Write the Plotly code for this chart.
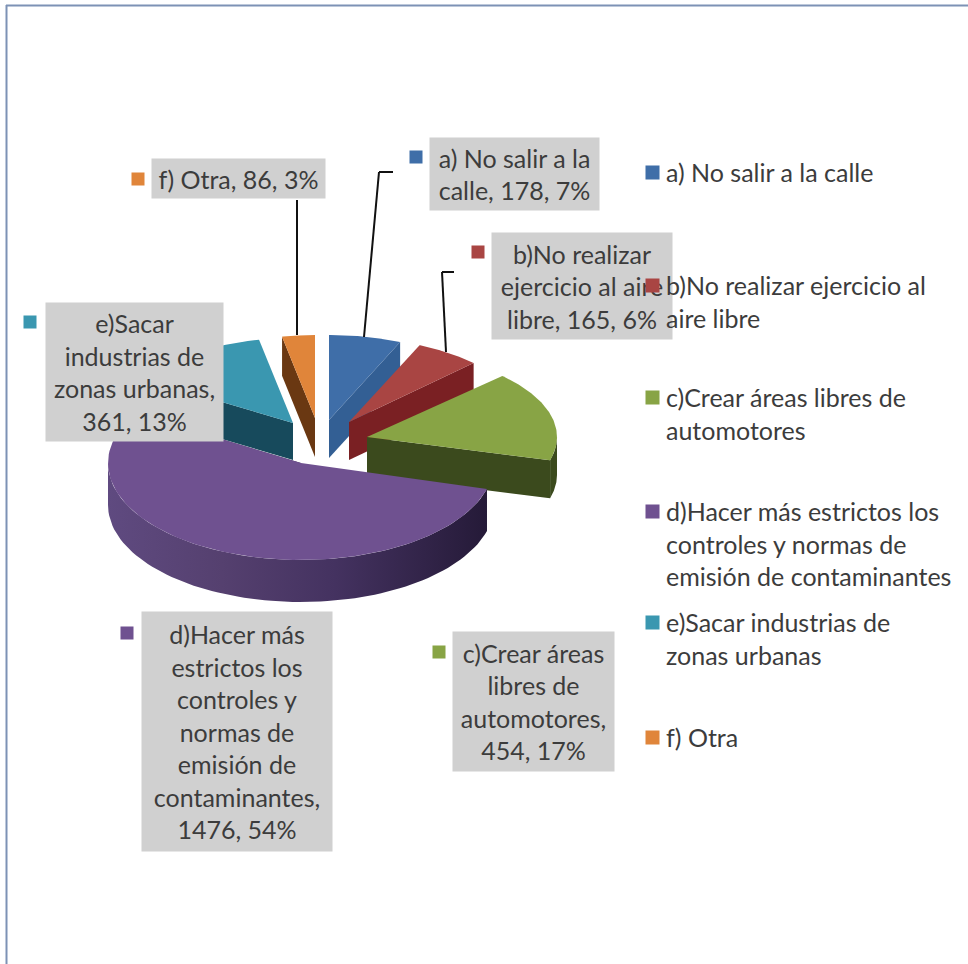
import numpy as np
import plotly.graph_objects as go

# ---- data ----
categories = ["a) No salir a la calle", "b)No realizar ejercicio al aire libre",
              "c)Crear áreas libres de automotores",
              "d)Hacer más estrictos los controles y normas de emisión de contaminantes",
              "e)Sacar industrias de zonas urbanas", "f) Otra"]
values = [178, 165, 454, 1476, 361, 86]
percents = [7, 6, 17, 54, 13, 3]

legend_lines = [["a) No salir a la calle"],
                ["b)No realizar ejercicio al", "aire libre"],
                ["c)Crear áreas libres de", "automotores"],
                ["d)Hacer más estrictos los", "controles y normas de", "emisión de contaminantes"],
                ["e)Sacar industrias de", "zonas urbanas"],
                ["f) Otra"]]
label_lines = [["a) No salir a la", "calle, 178, 7%"],
               ["b)No realizar", "ejercicio al aire", "libre, 165, 6%"],
               ["c)Crear áreas", "libres de", "automotores,", "454, 17%"],
               ["d)Hacer más", "estrictos los", "controles y", "normas de", "emisión de", "contaminantes,", "1476, 54%"],
               ["e)Sacar", "industrias de", "zonas urbanas,", "361, 13%"],
               ["f) Otra, 86, 3%"]]

# ---- styles ----
top_colors = ["#3f6ea8", "#a94543", "#88a445", "#6f5190", "#3a97b0", "#e0853a"]
wall_colors = ["#2f5a8e", "#7a2023", "#3b4a1d", "#3d2b57", "#174a5c", "#6a3812"]
cut_colors = ["#335f94", "#7a2023", "#3b4a1d", "#3d2b57", "#174a5c", "#6a3812"]
apex = [(329, 420), (349, 422), (367, 437), (301, 463), (293, 423), (315, 418)]
radii = [(178, 85), (175, 84), (190, 87), (193, 97), (172, 85), (167, 83)]
depth = [38, 38, 38, 42, 37, 39]
cut_side = ["end", "end", "end", "end", "start", "start"]
draw_order = [0, 1, 4, 5, 2, 3]
legend_pos = [172, 285, 397, 511, 622, 737]
label_box = [(429, 137, 169, 72), (491, 232, 180, 106), (452, 631, 161, 139),
             (141, 611, 190, 239), (45, 302, 177, 138), (151, 158, 173, 39)]
label_key = [(416, 157), (478, 252), (439, 652), (127, 633), (30, 322), (138, 179)]
leaders = [[(364, 337), (379, 172), (393, 172)],
           [(446, 352), (442, 272), (454, 272)],
           [(297, 200), (297, 335)]]
FONT = "Lato"
TEXT = "#3c3c3c"
FS = 25

# ---- geometry derived from the values ----
total = sum(values)
edges = np.concatenate([[0], np.cumsum(values)]) / total * 2 * np.pi


def point(i, t, dz=0):
    cx, cy = apex[i]
    rx, ry = radii[i]
    return cx + rx * np.sin(t), cy - ry * np.cos(t) + dz


def key(x, y, size, color):
    return dict(x=x, y=y, xanchor="center", yanchor="middle", width=size, height=size,
                showarrow=False, bgcolor=color, borderpad=0, text=" ",
                font=dict(family=FONT, size=8, color=color))


fig = go.Figure()
for i in draw_order:
    a0, a1 = edges[i], edges[i + 1]
    ax, ay = apex[i]
    d = depth[i]
    # cut face
    t = a1 if cut_side[i] == "end" else a0
    px_, py_ = point(i, t)
    fig.add_trace(go.Scatter(x=[ax, px_, px_, ax, ax], y=[ay, py_, py_ + d, ay + d, ay],
                             mode="lines", fill="toself", fillcolor=cut_colors[i],
                             line=dict(width=0), hoverinfo="skip", showlegend=False))
    # outer wall (front half of the ellipse only)
    lo, hi = max(a0, np.pi / 2), min(a1, 3 * np.pi / 2)
    if hi > lo:
        ts = np.linspace(lo, hi, 80)
        xs, ys = point(i, ts)
        wx = np.concatenate([xs, xs[::-1], xs[:1]])
        wy = np.concatenate([ys, (ys + d)[::-1], ys[:1]])
        kw = dict(fillcolor=wall_colors[i])
        if i == 3:
            kw = dict(fillgradient=dict(type="horizontal",
                      colorscale=[[0, "#5f4a80"], [0.3, "#55406f"], [0.6, "#443260"], [1, "#251a38"]]))
        fig.add_trace(go.Scatter(x=wx, y=wy, mode="lines", fill="toself", line=dict(width=0),
                                 hoverinfo="skip", showlegend=False, **kw))
    # top surface
    ts = np.linspace(a0, a1, 100)
    xs, ys = point(i, ts)
    fig.add_trace(go.Scatter(x=np.concatenate([[ax], xs, [ax]]), y=np.concatenate([[ay], ys, [ay]]),
                             mode="lines", fill="toself", fillcolor=top_colors[i],
                             line=dict(width=0), name=categories[i],
                             text=f"{categories[i]}: {values[i]} ({percents[i]}%)",
                             hoverinfo="text", showlegend=False))

shapes = [
    dict(type="line", x0=6, x1=968, y0=5.5, y1=5.5, line=dict(color="#7d92b5", width=2)),
    dict(type="line", x0=6.5, x1=6.5, y0=5, y1=964, line=dict(color="#7d92b5", width=2)),
]
for pts in leaders:
    for (x0, y0), (x1, y1) in zip(pts[:-1], pts[1:]):
        shapes.append(dict(type="line", x0=x0, y0=y0, x1=x1, y1=y1, line=dict(color="#111111", width=2)))

annotations = []
for i in range(len(values)):
    x, y, w, h = label_box[i]
    annotations.append(dict(x=x, y=y, xanchor="left", yanchor="top", width=w, height=h,
                            showarrow=False, bgcolor="#d0d0d0", borderpad=0, align="center",
                            valign="middle", text="<br>".join(label_lines[i]),
                            font=dict(family=FONT, size=FS, color=TEXT)))
    kx, ky = label_key[i]
    annotations.append(key(kx, ky, 12, top_colors[i]))
for i in range(len(values)):
    annotations.append(dict(x=665, y=legend_pos[i] - 16, xanchor="left", yanchor="top",
                            showarrow=False, align="left", borderpad=0,
                            text="<br>".join(legend_lines[i]),
                            font=dict(family=FONT, size=FS, color=TEXT)))
    annotations.append(key(652, legend_pos[i], 13, top_colors[i]))

fig.update_layout(
    width=968, height=964, margin=dict(l=0, r=0, t=0, b=0),
    paper_bgcolor="white", plot_bgcolor="white", showlegend=False,
    xaxis=dict(range=[0, 968], visible=False, fixedrange=True),
    yaxis=dict(range=[964, 0], visible=False, fixedrange=True),
    shapes=shapes, annotations=annotations,
)
fig.write_html("out.html", config=dict(displayModeBar=False),
               post_script="document.body.style.margin='0';document.body.style.overflow='hidden';")
